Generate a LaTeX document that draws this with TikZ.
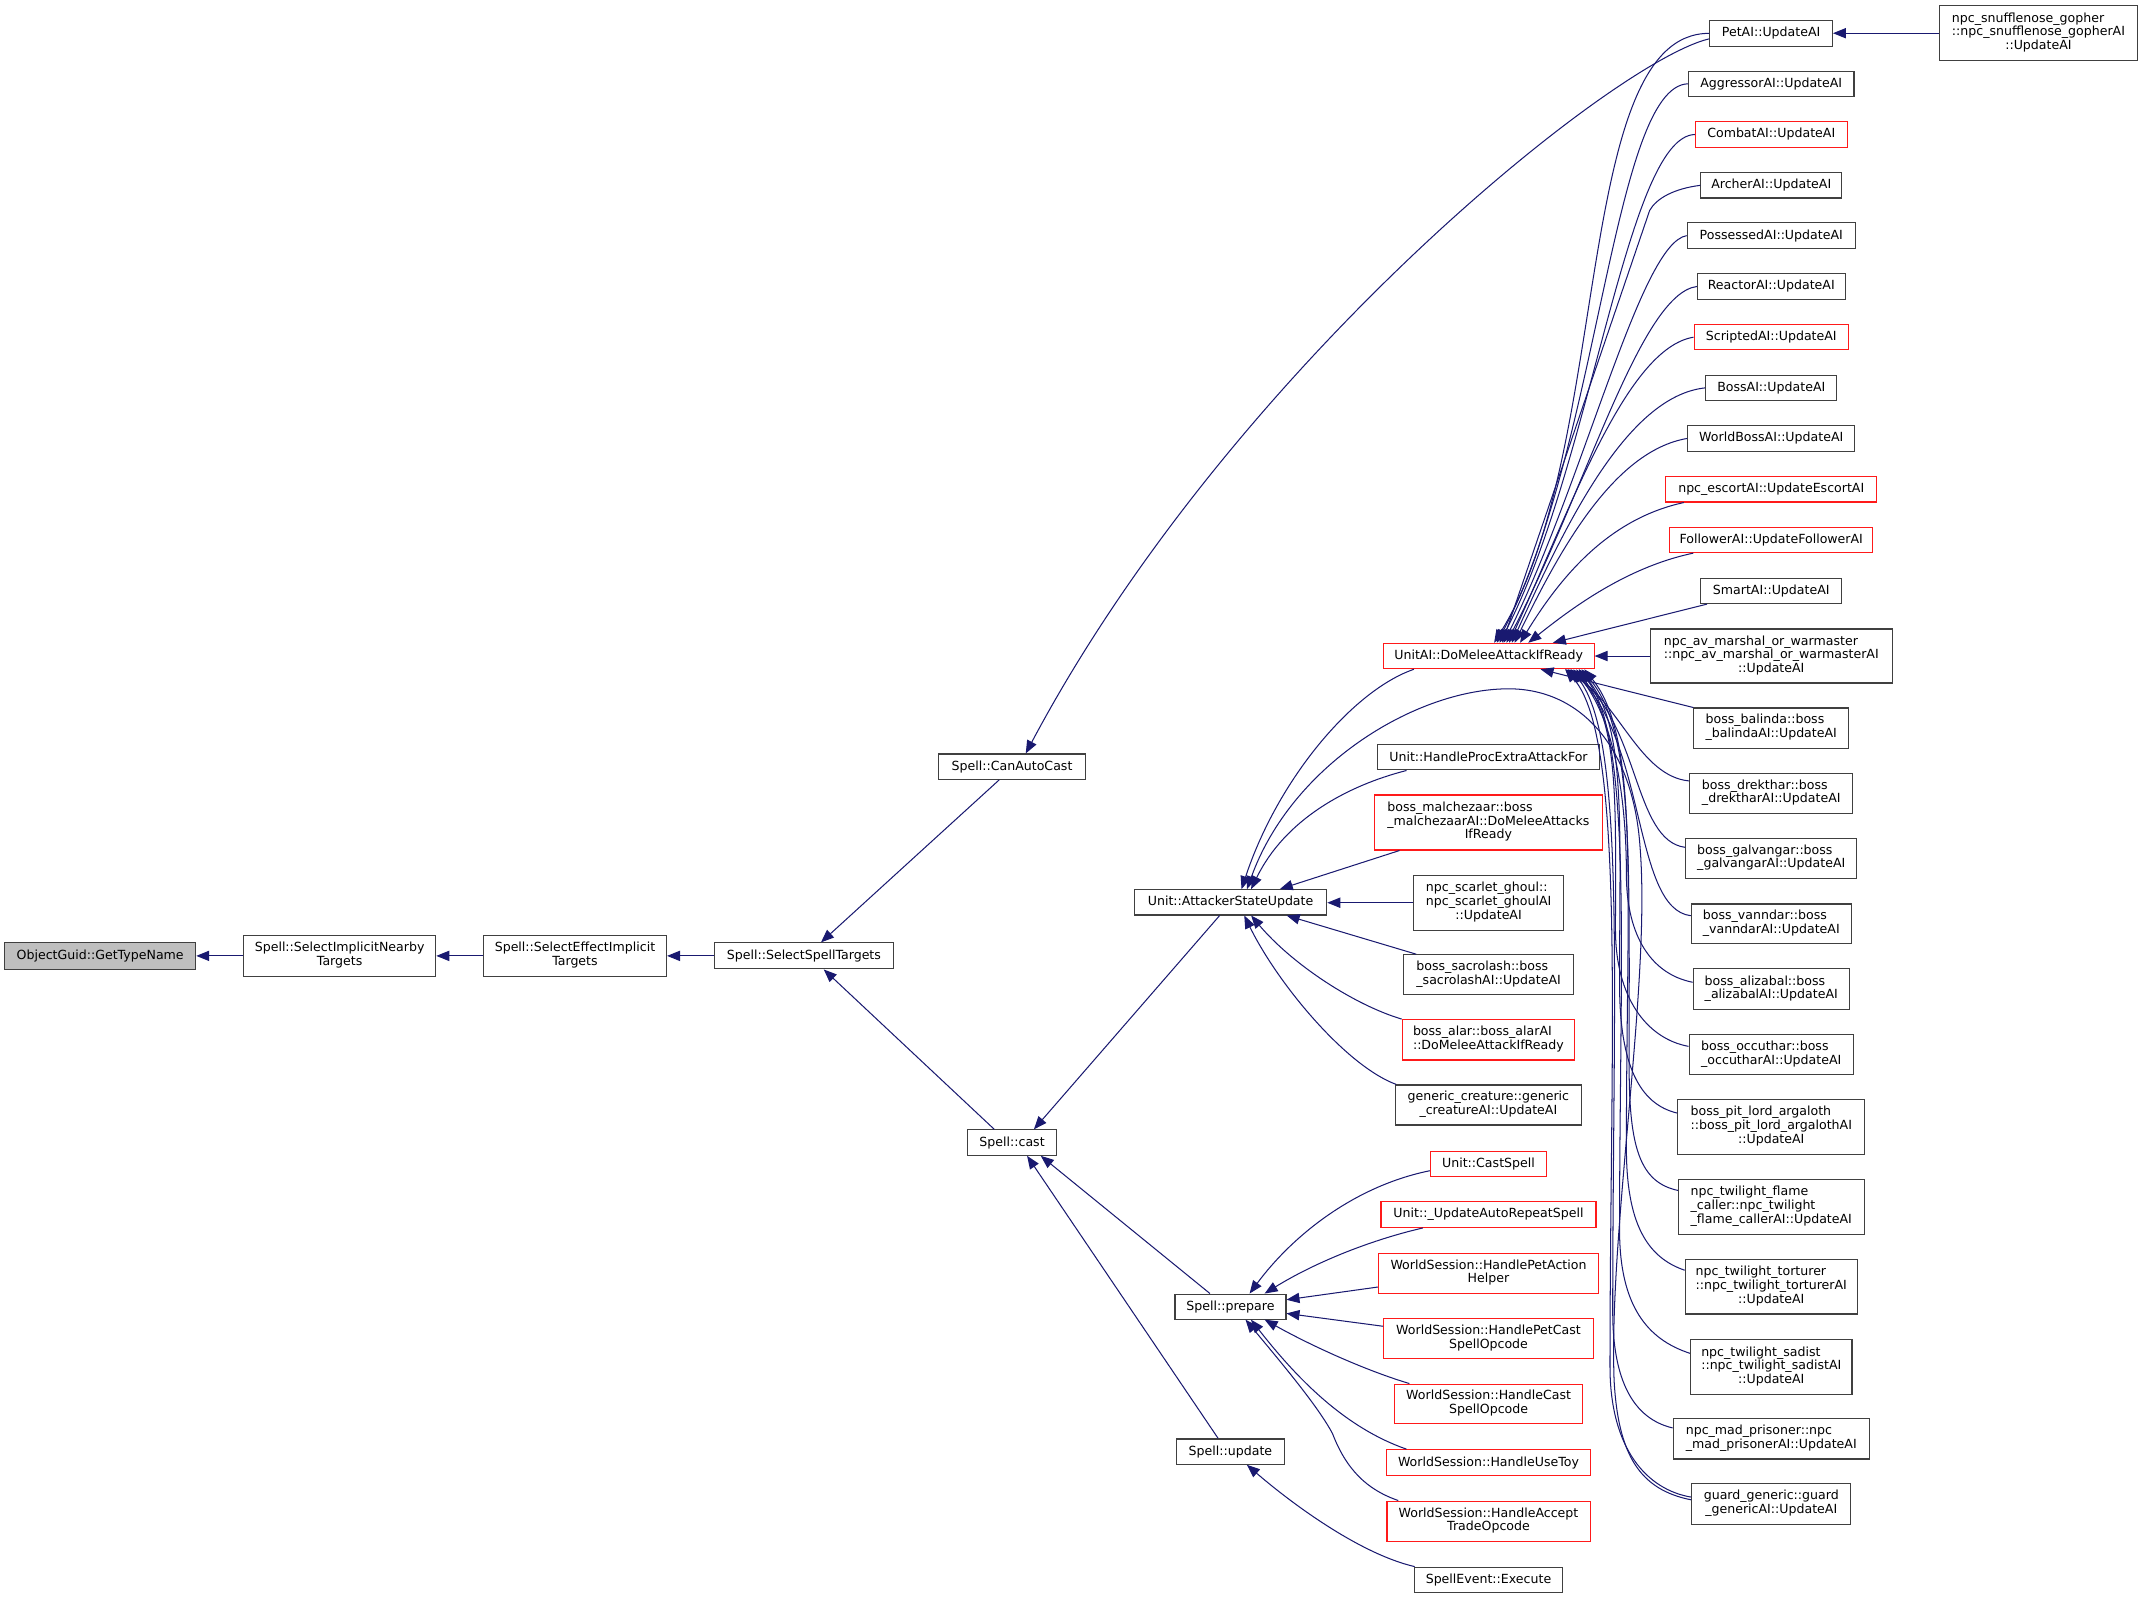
\documentclass[tikz,border=0pt]{standalone}
\usepackage{fontspec}
\setmainfont{DejaVu Sans}
\usetikzlibrary{arrows.meta}
\definecolor{edgeblue}{HTML}{191970}
\definecolor{bgray}{HTML}{404040}
\definecolor{bred}{HTML}{FF1A1A}
\definecolor{ogfill}{HTML}{BFBFBF}
\newcommand\nodefont{\fontsize{9.2pt}{10pt}\selectfont}
\newcommand\lblii[2]{\begin{tabular}{@{}l@{}}#1\\\multicolumn{1}{@{}c@{}}{#2}\end{tabular}}
\newcommand\lbliii[3]{\begin{tabular}{@{}l@{}}#1\\#2\\\multicolumn{1}{@{}c@{}}{#3}\end{tabular}}
\tikzset{
  nbox/.style={draw=bgray, line width=0.8pt, fill=white, inner sep=0pt, minimum height=18.6pt, font=\nodefont},
  rbox/.style={nbox, draw=bred},
  callarrow/.style={draw=edgeblue, line width=0.75pt, -{Triangle[length=9.5pt,width=7.5pt]}},
}
\begin{document}
\begin{tikzpicture}[x=1pt,y=-1pt]
\fill[white] (0,0) rectangle (1568,1170);
\useasboundingbox (0,0) rectangle (1568,1170);

% column 1-4
\node[nbox, fill=ogfill, minimum width=139.8pt, minimum height=19.3pt] (og) at (73.3,699.4) {ObjectGuid::GetTypeName};
\node[nbox, minimum width=140.7pt, minimum height=29.5pt] (sin) at (248.5,699.4) {\lblii{Spell::SelectImplicitNearby}{Targets}};
\node[nbox, minimum width=134pt, minimum height=29.5pt] (sei) at (420.7,699.4) {\lblii{Spell::SelectEffectImplicit}{Targets}};
\node[nbox, minimum width=131.5pt, minimum height=19pt] (sst) at (588.2,699.4) {Spell::SelectSpellTargets};
% column 5
\node[nbox, minimum width=107pt] (cac) at (740.5,561) {Spell::CanAutoCast};
\node[nbox, minimum width=65pt] (cast) at (740.5,836) {Spell::cast};
% column 6
\node[nbox, minimum width=140.7pt, minimum height=18.5pt] (asu) at (900.4,660.2) {Unit::AttackerStateUpdate};
\node[nbox, minimum width=81.2pt, minimum height=18.3pt] (prep) at (900.3,956) {Spell::prepare};
\node[nbox, minimum width=78.5pt, minimum height=18.5pt] (upd) at (900.3,1062.1) {Spell::update};
% column 7
\node[rbox, minimum width=154.3pt] (ua) at (1089.2,480) {UnitAI::DoMeleeAttackIfReady};
\node[nbox, minimum width=163pt, minimum height=18.5pt] (hpe) at (1089.1,554.1) {Unit::HandleProcExtraAttackFor};
\node[rbox, minimum width=167pt, minimum height=40.2pt] (mal) at (1089,601.8) {\lbliii{boss\_malchezaar::boss}{\_malchezaarAI::DoMeleeAttacks}{IfReady}};
\node[nbox, minimum width=109.4pt, minimum height=40pt] (sg) at (1089.2,660.5) {\lbliii{npc\_scarlet\_ghoul::}{npc\_scarlet\_ghoulAI}{::UpdateAI}};
\node[nbox, minimum width=124pt, minimum height=29.3pt] (sac) at (1089.2,713.2) {\lblii{boss\_sacrolash::boss}{\_sacrolashAI::UpdateAI}};
\node[rbox, minimum width=126pt, minimum height=29.5pt] (alar) at (1089,760.8) {\lblii{boss\_alar::boss\_alarAI}{::DoMeleeAttackIfReady}};
\node[nbox, minimum width=136pt, minimum height=29.3pt] (gen) at (1089,808.5) {\lblii{generic\_creature::generic}{\_creatureAI::UpdateAI}};
\node[rbox, minimum width=85.1pt, minimum height=18.8pt] (cs) at (1089.1,851.6) {Unit::CastSpell};
\node[rbox, minimum width=157.3pt, minimum height=18.7pt] (uars) at (1089.1,888.7) {Unit::\_UpdateAutoRepeatSpell};
\node[rbox, minimum width=161.2pt, minimum height=29.3pt] (hpa) at (1089.1,931.7) {\lblii{WorldSession::HandlePetAction}{Helper}};
\node[rbox, minimum width=153.4pt, minimum height=29pt] (hpc) at (1089.1,979.4) {\lblii{WorldSession::HandlePetCast}{SpellOpcode}};
\node[rbox, minimum width=137.5pt, minimum height=29pt] (hcs) at (1089.2,1027.2) {\lblii{WorldSession::HandleCast}{SpellOpcode}};
\node[rbox, minimum width=149.6pt, minimum height=18.8pt] (hut) at (1089.1,1070.1) {WorldSession::HandleUseToy};
\node[rbox, minimum width=148.6pt, minimum height=29.4pt] (hat) at (1089.1,1113) {\lblii{WorldSession::HandleAccept}{TradeOpcode}};
\node[nbox, minimum width=108.6pt, minimum height=18.7pt] (se) at (1089.1,1156) {SpellEvent::Execute};
% column 8
\node[nbox, minimum width=89.7pt] (pet) at (1295.9,24.4) {PetAI::UpdateAI};
\node[nbox, minimum width=121pt] (agg) at (1296,61.3) {AggressorAI::UpdateAI};
\node[rbox, minimum width=111pt] (com) at (1296,98.4) {CombatAI::UpdateAI};
\node[nbox, minimum width=103pt] (arc) at (1296,135.6) {ArcherAI::UpdateAI};
\node[nbox, minimum width=123pt] (pos) at (1296,172.4) {PossessedAI::UpdateAI};
\node[nbox, minimum width=108pt] (rea) at (1296,209.6) {ReactorAI::UpdateAI};
\node[rbox, minimum width=113pt] (scr) at (1296,246.7) {ScriptedAI::UpdateAI};
\node[nbox, minimum width=96pt] (bos) at (1296,283.8) {BossAI::UpdateAI};
\node[nbox, minimum width=122.2pt] (wba) at (1296,320.8) {WorldBossAI::UpdateAI};
\node[rbox, minimum width=154.4pt] (esc) at (1296,358) {npc\_escortAI::UpdateEscortAI};
\node[rbox, minimum width=148.6pt] (fol) at (1296,395) {FollowerAI::UpdateFollowerAI};
\node[nbox, minimum width=103.4pt] (sma) at (1296,432.3) {SmartAI::UpdateAI};
\node[nbox, minimum width=177pt, minimum height=39.5pt] (nav) at (1296,480) {\lbliii{npc\_av\_marshal\_or\_warmaster}{::npc\_av\_marshal\_or\_warmasterAI}{::UpdateAI}};
\node[nbox, minimum width=113.4pt, minimum height=29.3pt] (bal) at (1296,532.7) {\lblii{boss\_balinda::boss}{\_balindaAI::UpdateAI}};
\node[nbox, minimum width=119.3pt, minimum height=29.2pt] (dre) at (1296,580.4) {\lblii{boss\_drekthar::boss}{\_drektharAI::UpdateAI}};
\node[nbox, minimum width=125.1pt, minimum height=29.2pt] (gal) at (1296,628) {\lblii{boss\_galvangar::boss}{\_galvangarAI::UpdateAI}};
\node[nbox, minimum width=117pt, minimum height=29.2pt] (van) at (1296,676) {\lblii{boss\_vanndar::boss}{\_vanndarAI::UpdateAI}};
\node[nbox, minimum width=114.3pt, minimum height=29.7pt] (ali) at (1296,723.7) {\lblii{boss\_alizabal::boss}{\_alizabalAI::UpdateAI}};
\node[nbox, minimum width=120.3pt, minimum height=29.1pt] (occ) at (1296,771.6) {\lblii{boss\_occuthar::boss}{\_occutharAI::UpdateAI}};
\node[nbox, minimum width=136.9pt, minimum height=40.1pt] (pit) at (1296,824.4) {\lbliii{boss\_pit\_lord\_argaloth}{::boss\_pit\_lord\_argalothAI}{::UpdateAI}};
\node[nbox, minimum width=135.9pt, minimum height=40.3pt] (fla) at (1296,883) {\lbliii{npc\_twilight\_flame}{\_caller::npc\_twilight}{\_flame\_callerAI::UpdateAI}};
\node[nbox, minimum width=125.9pt, minimum height=40.1pt] (tor) at (1296,941.4) {\lbliii{npc\_twilight\_torturer}{::npc\_twilight\_torturerAI}{::UpdateAI}};
\node[nbox, minimum width=118.1pt, minimum height=40pt] (sad) at (1296,1000.2) {\lbliii{npc\_twilight\_sadist}{::npc\_twilight\_sadistAI}{::UpdateAI}};
\node[nbox, minimum width=143.5pt, minimum height=29.4pt] (mad) at (1296,1052.8) {\lblii{npc\_mad\_prisoner::npc}{\_mad\_prisonerAI::UpdateAI}};
\node[nbox, minimum width=116.3pt, minimum height=29.5pt] (gua) at (1296,1100.4) {\lblii{guard\_generic::guard}{\_genericAI::UpdateAI}};
% column 9
\node[nbox, minimum width=144.7pt, minimum height=40.3pt] (snu) at (1491.5,24.3) {\lbliii{npc\_snufflenose\_gopher}{::npc\_snufflenose\_gopherAI}{::UpdateAI}};

% left chain
\draw[callarrow] (sin.west) -- (og.east);
\draw[callarrow] (sei.west) -- (sin.east);
\draw[callarrow] (sst.west) -- (sei.east);
\draw[callarrow] ([xshift=-9.5pt]cac.south) -- ([xshift=12.5pt]sst.north);
\draw[callarrow] ([xshift=-13pt]cast.north) -- ([xshift=14.5pt]sst.south);
\draw[callarrow] ([yshift=-4pt]pet.west) .. controls (1180,45) and (900,270) .. ([xshift=10pt]cac.north);
\draw[callarrow] ([xshift=-8pt]asu.south) -- ([xshift=16pt]cast.north);
\draw[callarrow] ([xshift=-15pt]prep.north) -- ([xshift=21pt]cast.south);
\draw[callarrow] ([xshift=-9pt]upd.north) -- ([xshift=11pt]cast.south);

% callers of Unit::AttackerStateUpdate
\draw[callarrow] ([xshift=-54.7pt]ua.south) .. controls (990,505) and (935,570) .. ([xshift=8pt]asu.north);
\draw[callarrow] ([yshift=3pt]gua.west) .. controls (1200,1090) and (1184,1065) .. (1181,1010)
   .. controls (1177,900) and (1208,720) .. (1200,620)
   .. controls (1195,545) and (1155,503) .. (1102,504)
   .. controls (1035,505) and (945,560) .. ([xshift=12pt]asu.north);
\draw[callarrow] ([xshift=-60pt]hpe.south) .. controls (985,575) and (940,600) .. ([xshift=15pt]asu.north);
\draw[callarrow] ([xshift=-65pt]mal.south) -- ([xshift=36pt]asu.north);
\draw[callarrow] (sg.west) -- (sg.west -| asu.east);
\draw[callarrow] ([xshift=-53pt]sac.north) -- ([xshift=41pt]asu.south);
\draw[callarrow] (alar.north west) .. controls (990,735) and (945,705) .. ([xshift=15pt]asu.south);
\draw[callarrow] ([xshift=1pt]gen.north west) .. controls (985,780) and (935,720) .. ([xshift=10pt]asu.south);

% callers of Spell::prepare / Spell::update
\draw[callarrow] ([yshift=-5pt]cs.west) .. controls (990,868) and (945,905) .. ([xshift=14pt]prep.north);
\draw[callarrow] ([xshift=-48pt]uars.south) .. controls (1000,908) and (960,925) .. ([xshift=25pt]prep.north);
\draw[callarrow] ([yshift=-10pt]hpa.west) -- ([yshift=5pt]prep.east);
\draw[callarrow] ([yshift=9pt]hpc.west) -- ([yshift=-5pt]prep.east);
\draw[callarrow] ([xshift=-58pt]hcs.north) .. controls (1000,1003) and (960,985) .. ([xshift=25pt]prep.south);
\draw[callarrow] ([xshift=-60pt]hut.north) .. controls (985,1045) and (950,1010) .. ([xshift=15pt]prep.south);
\draw[callarrow] ([xshift=-66pt]hat.north) .. controls (1000,1090) and (985,1075) .. (975,1049)
   .. controls (965,1030) and (940,1000) .. ([xshift=11pt]prep.south);
\draw[callarrow] ([xshift=-54pt]se.north) .. controls (995,1137) and (945,1100) .. ([xshift=12pt]upd.south);
\draw[callarrow] (snu.west) -- (snu.west -| pet.east);

% callers of UnitAI::DoMeleeAttackIfReady (above)
\draw[callarrow] (pet.west) .. controls (1150,24) and (1180,330) .. ([xshift=4pt]ua.north);
\draw[callarrow] (agg.west) .. controls (1180,63) and (1170,330) .. ([xshift=6pt]ua.north);
\draw[callarrow] (com.west) .. controls (1190,100) and (1165,340) .. ([xshift=8pt]ua.north);
\draw[callarrow] (arc.west) .. controls (1225,138) and (1212,145) .. (1207,154) -- ([xshift=10pt]ua.north);
\draw[callarrow] (pos.west) .. controls (1200,178) and (1160,350) .. ([xshift=11pt]ua.north);
\draw[callarrow] (rea.west) .. controls (1200,215) and (1160,360) .. ([xshift=13pt]ua.north);
\draw[callarrow] (scr.west) .. controls (1190,255) and (1150,370) .. ([xshift=15pt]ua.north);
\draw[callarrow] (bos.west) .. controls (1190,290) and (1145,385) .. ([xshift=17pt]ua.north);
\draw[callarrow] (wba.west) .. controls (1180,330) and (1140,405) .. ([xshift=19pt]ua.north);
\draw[callarrow] ([xshift=-64pt]esc.south) .. controls (1175,380) and (1140,425) .. ([xshift=23pt]ua.north);
\draw[callarrow] ([xshift=-57pt]fol.south) .. controls (1190,415) and (1150,445) .. ([xshift=29pt]ua.north);
\draw[callarrow] ([xshift=-47pt]sma.south) -- ([xshift=47pt]ua.north);
\draw[callarrow] (nav.west) -- (nav.west -| ua.east);

% callers of UnitAI::DoMeleeAttackIfReady (below)
\draw[callarrow] (bal.north west) -- ([xshift=38pt]ua.south);
\draw[callarrow] ([yshift=9pt]dre.west) .. controls (1200,568) and (1185,515) .. ([xshift=56pt]ua.south);
\draw[callarrow] ([yshift=8pt]gal.west) .. controls (1195,615) and (1200,530) .. ([xshift=58pt]ua.south);
\draw[callarrow] ([yshift=6pt]van.west) .. controls (1195,665) and (1205,545) .. ([xshift=60pt]ua.south);
\draw[callarrow] ([yshift=5pt]ali.west) .. controls (1205,712) and (1190,680) .. (1190,640)
   .. controls (1190,580) and (1180,525) .. ([xshift=62pt]ua.south);
\draw[callarrow] ([yshift=6pt]occ.west) .. controls (1205,760) and (1182,730) .. (1182,680)
   .. controls (1182,590) and (1185,530) .. ([xshift=64pt]ua.south);
\draw[callarrow] ([yshift=10pt]pit.west) .. controls (1200,808) and (1185,780) .. (1185,720)
   .. controls (1185,600) and (1190,530) .. ([xshift=66pt]ua.south);
\draw[callarrow] ([yshift=12pt]fla.west) .. controls (1200,865) and (1192,840) .. (1192,780)
   .. controls (1192,620) and (1195,535) .. ([xshift=68pt]ua.south);
\draw[callarrow] ([yshift=12pt]tor.west) .. controls (1205,920) and (1190,895) .. (1190,840)
   .. controls (1190,650) and (1200,540) .. ([xshift=70pt]ua.south);
\draw[callarrow] ([yshift=10pt]sad.west) .. controls (1205,980) and (1185,955) .. (1185,900)
   .. controls (1185,700) and (1195,540) .. ([xshift=66pt]ua.south);
\draw[callarrow] ([yshift=8pt]mad.west) .. controls (1195,1038) and (1180,1010) .. (1180,960)
   .. controls (1180,720) and (1190,540) .. ([xshift=60pt]ua.south);
\draw[callarrow] ([yshift=5pt]gua.west) .. controls (1205,1090) and (1178,1060) .. (1178,1000)
   .. controls (1178,760) and (1190,540) .. ([xshift=56pt]ua.south);
\end{tikzpicture}
\end{document}
